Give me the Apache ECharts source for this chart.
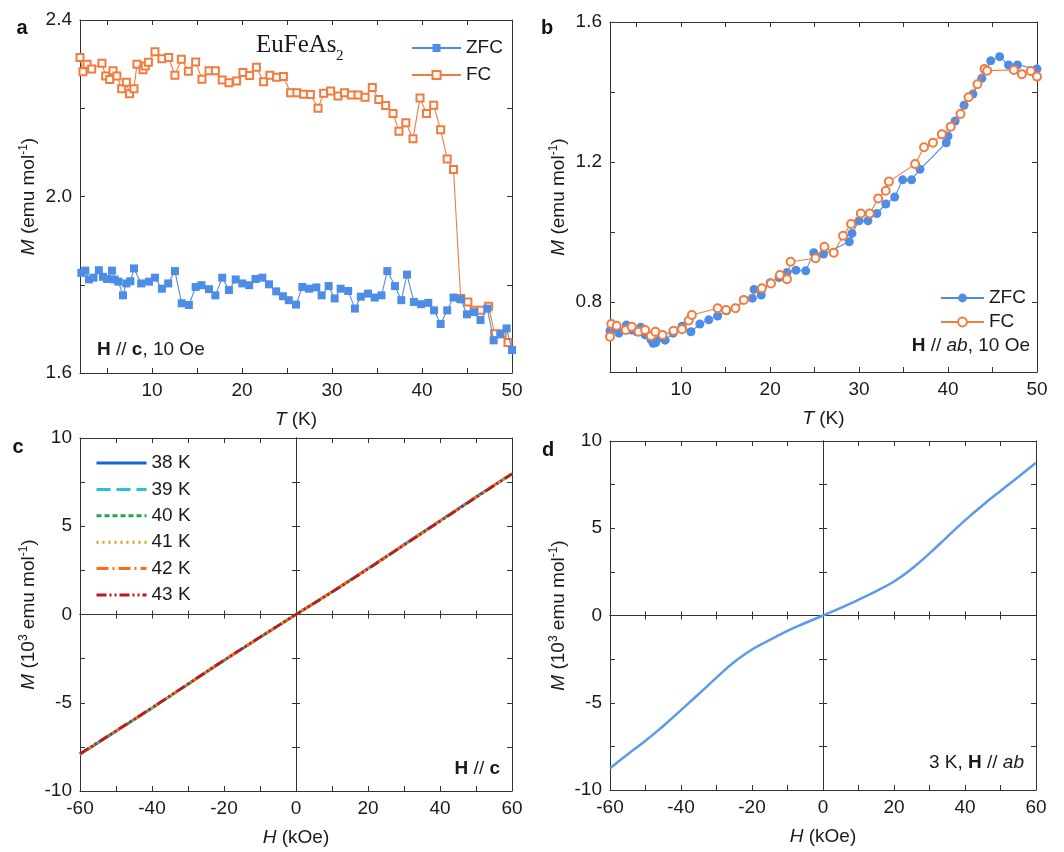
<!DOCTYPE html>
<html><head><meta charset="utf-8">
<script src="https://cdn.jsdelivr.net/npm/echarts@6/dist/echarts.min.js"></script>
<style>html,body{margin:0;padding:0;background:#fff}#c{width:1064px;height:852px}</style>
</head><body><div id="c"></div>
<script>
// ---------- DATA ----------
// Panel a: H // c, 10 Oe
const aT_ZFC = [2.15,2.6,3.0,3.5,4.1,4.55,5.0,5.55,5.85,6.26,6.78,7.15,7.6,8.0,8.8,9.67,10.33,11.1,11.8,12.55,13.3,14.1,14.85,15.5,16.33,17.04,17.8,18.55,19.3,20.04,20.8,21.5,22.26,23.0,23.8,24.55,25.2,26.0,26.7,27.45,28.26,28.85,29.63,30.3,30.96,31.8,32.55,33.2,34.0,34.74,35.5,36.15,37.0,37.7,38.33,39.1,39.9,40.7,41.33,42.07,42.8,43.5,44.3,45.0,45.8,46.5,47.26,47.96,48.7,49.4,50.0];
const aM_ZFC = [1.827,1.832,1.812,1.816,1.833,1.818,1.813,1.832,1.812,1.807,1.776,1.803,1.808,1.837,1.803,1.807,1.816,1.791,1.803,1.831,1.758,1.754,1.795,1.799,1.790,1.776,1.816,1.788,1.812,1.803,1.799,1.813,1.816,1.801,1.785,1.774,1.765,1.755,1.795,1.791,1.794,1.776,1.797,1.769,1.791,1.786,1.746,1.773,1.780,1.771,1.776,1.831,1.797,1.765,1.823,1.761,1.756,1.759,1.742,1.711,1.742,1.771,1.767,1.733,1.738,1.720,1.746,1.674,1.688,1.701,1.652];
const aT_FC = [2.0,2.33,2.78,3.3,4.44,4.85,5.3,5.67,6.1,6.63,7.15,7.5,8.0,8.33,9.0,9.25,9.6,10.33,11.1,11.85,12.55,13.26,14.04,14.85,15.55,16.33,17.04,17.8,18.55,19.4,20.1,20.85,21.6,22.4,23.1,23.85,24.6,25.4,26.1,26.85,27.6,28.45,29.07,29.85,30.67,31.4,32.15,32.9,33.67,34.48,35.2,35.96,36.78,37.44,38.2,39.0,39.78,40.5,41.3,42.07,42.8,43.5,44.3,45.1,45.8,46.55,47.4,48.07,48.9,49.55];
const aM_FC = [2.315,2.283,2.300,2.289,2.302,2.273,2.265,2.285,2.273,2.244,2.259,2.233,2.244,2.300,2.287,2.296,2.304,2.328,2.312,2.315,2.275,2.311,2.284,2.305,2.266,2.285,2.285,2.264,2.258,2.262,2.281,2.274,2.293,2.260,2.275,2.270,2.272,2.235,2.235,2.232,2.231,2.200,2.234,2.239,2.228,2.235,2.230,2.230,2.225,2.247,2.220,2.206,2.188,2.148,2.167,2.131,2.223,2.188,2.207,2.151,2.085,2.061,1.769,1.761,1.742,1.742,1.751,1.689,1.689,1.669];
// Panel b: H // ab, 10 Oe
const bT_ZFC = [2.0,2.3,3.0,3.84,4.4,5.0,5.46,5.95,6.6,6.85,7.15,7.7,8.2,9.1,10.1,11.1,12.1,13.1,14.1,15.1,18.0,18.2,19.0,20.0,21.0,21.9,22.9,24.0,24.9,26.0,28.9,29.2,30.0,31.0,32.0,33.0,34.0,34.9,35.9,36.85,39.8,40.0,40.8,41.8,42.8,43.8,44.8,45.8,46.8,47.8,50.0];
const bM_ZFC = [0.718,0.725,0.711,0.734,0.720,0.715,0.728,0.706,0.693,0.682,0.684,0.699,0.691,0.711,0.731,0.715,0.737,0.749,0.760,0.775,0.811,0.836,0.820,0.855,0.870,0.884,0.891,0.889,0.941,0.937,0.972,0.996,1.032,1.032,1.053,1.080,1.100,1.149,1.149,1.179,1.255,1.274,1.317,1.362,1.394,1.439,1.489,1.501,1.477,1.477,1.466];
const bT_FC = [2.0,2.15,2.75,3.77,4.44,5.2,5.95,6.6,7.1,7.9,9.14,10.1,10.85,11.2,14.1,15.05,16.1,17.04,19.07,20.1,21.1,21.9,22.3,25.1,26.1,27.15,28.2,29.1,30.2,31.2,32.15,33.0,33.35,36.3,37.3,38.3,39.3,40.3,41.4,42.3,43.3,44.1,44.4,47.4,48.3,49.3,50.0];
const bM_FC = [0.701,0.737,0.732,0.720,0.729,0.715,0.720,0.703,0.715,0.706,0.718,0.722,0.747,0.763,0.782,0.777,0.782,0.806,0.839,0.853,0.877,0.865,0.915,0.925,0.958,0.941,0.989,1.023,1.053,1.053,1.096,1.118,1.144,1.194,1.242,1.255,1.279,1.301,1.337,1.385,1.422,1.466,1.461,1.463,1.451,1.460,1.444];
// Panel c: M(H), H // c
const cH = [-60,-50,-40,-30,-20,-10,0,10,20,30,40,50,60];
const cM_38 = [-7.92,-6.62,-5.30,-3.96,-2.61,-1.30,0,1.29,2.61,3.96,5.31,6.66,7.99];
const cM_39 = [-7.91,-6.61,-5.30,-3.95,-2.60,-1.30,0,1.29,2.60,3.95,5.30,6.65,7.98];
const cM_40 = [-7.91,-6.60,-5.29,-3.95,-2.60,-1.29,0,1.28,2.60,3.95,5.30,6.65,7.98];
const cM_41 = [-7.90,-6.60,-5.29,-3.94,-2.60,-1.29,0,1.28,2.59,3.94,5.29,6.64,7.97];
const cM_42 = [-7.90,-6.59,-5.28,-3.94,-2.59,-1.29,0,1.28,2.59,3.94,5.29,6.64,7.97];
const cM_43 = [-7.89,-6.59,-5.28,-3.93,-2.59,-1.28,0,1.27,2.58,3.93,5.28,6.63,7.96];
const cNames = ['38 K','39 K','40 K','41 K','42 K','43 K'];
// Panel d: M(H), 3 K, H // ab
const dH = [-60,-55,-50,-45,-40,-35,-30,-25,-20,-15,-10,-5,0,5,10,15,20,25,30,35,40,45,50,55,60];
const dM = [-8.75,-7.95,-7.18,-6.33,-5.42,-4.50,-3.56,-2.66,-1.95,-1.40,-0.88,-0.43,0,0.44,0.90,1.40,1.95,2.68,3.56,4.51,5.45,6.32,7.14,7.94,8.75];
// Tick values
const aXTicks = [5,10,15,20,25,30,35,40,45,50];
const aXLabels = [10,20,30,40,50];
const aYTicks = [1.8,2.0,2.2];
const aYLabels = [1.6,2.0,2.4];
const bYTicks = [0.8,1.0,1.2,1.4];
const bYLabels = [0.8,1.2,1.6];
const hTicks = [-50,-40,-30,-20,-10,0,10,20,30,40,50];
const hZeroTicks = [-50,-40,-30,-20,-10,10,20,30,40,50];
const hLabels = [-60,-40,-20,0,20,40,60];
const mTicks = [-7.5,-5,-2.5,0,2.5,5,7.5];
const mZeroTicks = [-7.5,-5,-2.5,2.5,5,7.5];
const mLabels = [-10,-5,0,5,10];

// ---------- CHART ----------
const FONT = '"Liberation Sans", Arial, sans-serif';
const SERIF = '"Liberation Serif", "Times New Roman", serif';
const AX = '#333';
const TXT = '#1a1a1a';
const BLUE = '#4d8de6';
const ORANGE = '#f47b3e';
const cColors = ['#1766d9','#25c2d8','#27a35a','#d6a21c','#ff6a12','#c0161c'];
const cDash = ['solid',[14,6],[5,3],[2,4],[12,4,2,4],[10,3,2,3,2,3]];
const zip = (a, b) => a.map((v, i) => [v, b[i]]);

const nameRich = {
  i: {fontStyle:'italic', fontSize:19, fontFamily:FONT, color:TXT, lineHeight:22},
  n: {fontSize:19, fontFamily:FONT, color:TXT, lineHeight:22},
  s: {fontSize:12, fontFamily:FONT, color:TXT, lineHeight:12, verticalAlign:'top'}
};

function ax(o) {
  const a = {
    type:'value', gridIndex:o.g, position:o.pos, min:o.min, max:o.max,
    axisLine:{show:true, onZero:o.zero !== undefined, lineStyle:{color:AX, width:1}},
    axisTick:{show:true, inside:o.inside !== false, length:o.tl || 5, customValues:o.ticks, lineStyle:{color:AX, width:1}},
    axisLabel:{show:!!o.labels, color:TXT, fontSize:19, fontFamily:FONT, margin:o.margin || 8},
    splitLine:{show:false}, minorTick:{show:false}
  };
  if (o.zero !== undefined) a.axisLine.onZeroAxisIndex = o.zero;
  if (o.labels) { a.axisLabel.customValues = o.labels; a.axisLabel.formatter = o.fmt; }
  if (o.name) {
    a.name = o.name; a.nameLocation = 'middle'; a.nameGap = o.gap;
    a.nameTextStyle = {fontSize:19, fontFamily:FONT, color:TXT, lineHeight:22, rich:nameRich};
  }
  return a;
}
const f1 = v => v.toFixed(1);
const f0 = v => String(Math.round(v));

const xAxes = [
  ax({g:0,pos:'bottom',min:2,max:50,ticks:aXTicks,labels:aXLabels,fmt:f0,name:'{i|T}{n| (K)}',gap:36}),
  ax({g:0,pos:'top',min:2,max:50,ticks:aXTicks}),
  ax({g:1,pos:'bottom',min:2,max:50,ticks:aXTicks,labels:aXLabels,fmt:f0,name:'{i|T}{n| (K)}',gap:36}),
  ax({g:1,pos:'top',min:2,max:50,ticks:aXTicks}),
  ax({g:2,pos:'bottom',min:-60,max:60,ticks:hTicks,labels:hLabels,fmt:f0,name:'{i|H}{n| (kOe)}',gap:36}),
  ax({g:2,pos:'top',min:-60,max:60,ticks:hTicks}),
  ax({g:2,pos:'bottom',min:-60,max:60,ticks:hZeroTicks,zero:4,tl:4}),
  ax({g:2,pos:'bottom',min:-60,max:60,ticks:hZeroTicks,zero:4,tl:4,inside:false}),
  ax({g:3,pos:'bottom',min:-60,max:60,ticks:hTicks,labels:hLabels,fmt:f0,name:'{i|H}{n| (kOe)}',gap:36}),
  ax({g:3,pos:'top',min:-60,max:60,ticks:hTicks}),
  ax({g:3,pos:'bottom',min:-60,max:60,ticks:hZeroTicks,zero:8,tl:4}),
  ax({g:3,pos:'bottom',min:-60,max:60,ticks:hZeroTicks,zero:8,tl:4,inside:false})
];
const yAxes = [
  ax({g:0,pos:'left',min:1.6,max:2.4,ticks:aYTicks,labels:aYLabels,fmt:f1,name:'{i|M}{n| (emu mol}{s|-1}{n|)}',gap:40}),
  ax({g:0,pos:'right',min:1.6,max:2.4,ticks:aYTicks}),
  ax({g:1,pos:'left',min:0.6,max:1.6,ticks:bYTicks,labels:bYLabels,fmt:f1,name:'{i|M}{n| (emu mol}{s|-1}{n|)}',gap:40}),
  ax({g:1,pos:'right',min:0.6,max:1.6,ticks:bYTicks}),
  ax({g:2,pos:'left',min:-10,max:10,ticks:mTicks,labels:mLabels,fmt:f0,name:'{i|M}{n| (10}{s|3}{n| emu mol}{s|-1}{n|)}',gap:40}),
  ax({g:2,pos:'right',min:-10,max:10,ticks:mTicks}),
  ax({g:2,pos:'left',min:-10,max:10,ticks:mZeroTicks,zero:4,tl:4}),
  ax({g:2,pos:'left',min:-10,max:10,ticks:mZeroTicks,zero:4,tl:4,inside:false}),
  ax({g:3,pos:'left',min:-10,max:10,ticks:mTicks,labels:mLabels,fmt:f0,name:'{i|M}{n| (10}{s|3}{n| emu mol}{s|-1}{n|)}',gap:40}),
  ax({g:3,pos:'right',min:-10,max:10,ticks:mTicks}),
  ax({g:3,pos:'left',min:-10,max:10,ticks:mZeroTicks,zero:8,tl:4}),
  ax({g:3,pos:'left',min:-10,max:10,ticks:mZeroTicks,zero:8,tl:4,inside:false})
];

const series = [
  {type:'line', name:'ZFC', xAxisIndex:0, yAxisIndex:0, data:zip(aT_ZFC,aM_ZFC), symbol:'rect', symbolSize:8,
   itemStyle:{color:BLUE}, lineStyle:{color:BLUE,width:1.1}, z:3},
  {type:'line', name:'FC', xAxisIndex:0, yAxisIndex:0, data:zip(aT_FC,aM_FC), symbol:'emptyRect', symbolSize:7,
   itemStyle:{color:ORANGE, borderWidth:1}, lineStyle:{color:ORANGE,width:1.1}, z:2},
  {type:'line', name:'ZFC_b', xAxisIndex:2, yAxisIndex:2, data:zip(bT_ZFC,bM_ZFC), symbol:'circle', symbolSize:9,
   itemStyle:{color:BLUE}, lineStyle:{color:BLUE,width:1.1}, z:2},
  {type:'line', name:'FC_b', xAxisIndex:2, yAxisIndex:2, data:zip(bT_FC,bM_FC), symbol:'emptyCircle', symbolSize:8,
   itemStyle:{color:ORANGE, borderWidth:1}, lineStyle:{color:ORANGE,width:1.1}, z:3}
];
const cData = [cM_38,cM_39,cM_40,cM_41,cM_42,cM_43];
cNames.forEach((n, i) => {
  series.push({type:'line', name:n, xAxisIndex:4, yAxisIndex:4, data:zip(cH,cData[i]), symbol:'none', smooth:true,
    lineStyle:{color:cColors[i], width:2.6, type:cDash[i]}, itemStyle:{color:cColors[i]}, z:3+i});
});
series.push({type:'line', name:'d', xAxisIndex:8, yAxisIndex:8, data:zip(dH,dM), symbol:'none', smooth:true,
  lineStyle:{color:'#5b9bea', width:2.5}, z:3});

const legText = {fontSize:19, fontFamily:FONT, color:TXT, lineHeight:20};
const strip = n => n.replace('_b','');

function rt(x, y, text, align) {
  const base = {fontSize:19, fontFamily:FONT, fill:TXT};
  return {type:'text', x:x, y:y, style:Object.assign({text:text, align:align, verticalAlign:'middle',
    rich:{
      b:Object.assign({fontWeight:'bold'}, base),
      it:Object.assign({fontStyle:'italic'}, base),
      n:Object.assign({}, base)
    }}, base)};
}
const panelLetter = (x, y, t) => ({type:'text', x:x, y:y, style:{text:t, fontSize:20, fontWeight:'bold', fontFamily:FONT, fill:'#111', align:'center', verticalAlign:'middle'}});

const option = {
  backgroundColor:'#fff',
  animation:false,
  grid:[
    {left:80, top:20, width:432, height:353, containLabel:false, outerBoundsMode:'none'},
    {left:610, top:22, width:427, height:350, containLabel:false, outerBoundsMode:'none'},
    {left:80, top:438, width:432, height:353, containLabel:false, outerBoundsMode:'none'},
    {left:610, top:441, width:426, height:349, containLabel:false, outerBoundsMode:'none'}
  ],
  xAxis:xAxes,
  yAxis:yAxes,
  legend:[
    {data:['ZFC','FC'], left:406, top:33, orient:'vertical', itemWidth:49, itemHeight:10, itemGap:7, textStyle:legText, selectedMode:false},
    {data:['ZFC_b','FC_b'], left:935, top:283, orient:'vertical', itemWidth:43, itemHeight:11, itemGap:4, textStyle:legText, formatter:strip, selectedMode:false},
    {data:cNames, left:90, top:448, orient:'vertical', itemWidth:50, itemHeight:14, itemGap:6.4, textStyle:legText, selectedMode:false,
     itemStyle:{opacity:0}, lineStyle:{width:3}}
  ],
  graphic:[
    panelLetter(22, 28, 'a'),
    panelLetter(547, 28, 'b'),
    panelLetter(18, 447, 'c'),
    panelLetter(548, 450, 'd'),
    {type:'text', x:256, y:45, style:{text:'EuFeAs', fontSize:25, fontFamily:SERIF, fill:TXT, align:'left', verticalAlign:'middle'}},
    {type:'text', x:336, y:56, style:{text:'2', fontSize:15, fontFamily:SERIF, fill:TXT, align:'left', verticalAlign:'middle'}},
    rt(97, 350, '{b|H}{n| // }{b|c}{n|, 10 Oe}', 'left'),
    rt(1030, 346, '{b|H}{n| // }{it|ab}{n|, 10 Oe}', 'right'),
    rt(500, 769, '{b|H}{n| // }{b|c}', 'right'),
    rt(1024, 763, '{n|3 K, }{b|H}{n| // }{it|ab}', 'right')
  ],
  series:series
};
const chart = echarts.init(document.getElementById('c'));
chart.setOption(option);
</script></body></html>
